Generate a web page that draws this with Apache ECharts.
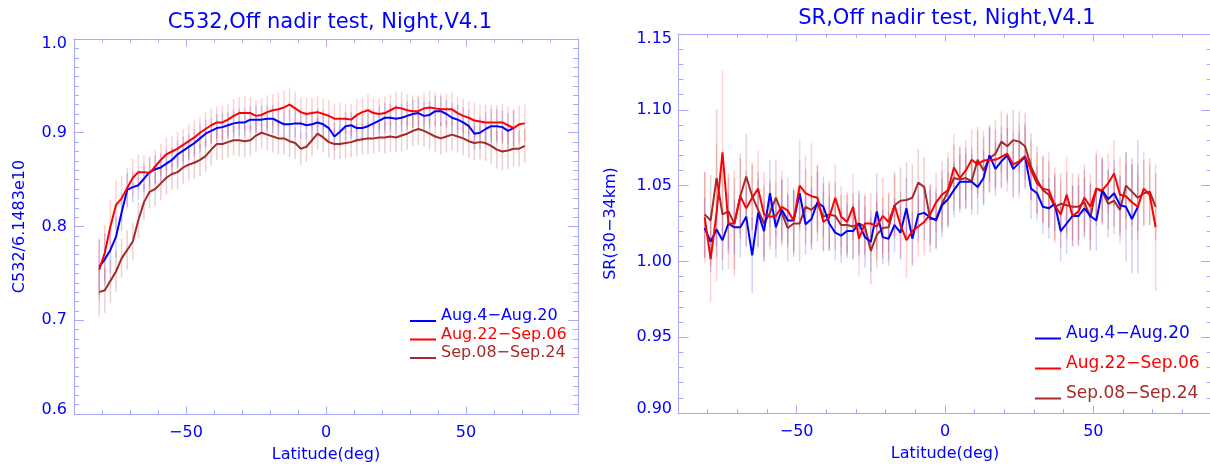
<!DOCTYPE html>
<html>
<head>
<meta charset="utf-8">
<script src="https://cdn.jsdelivr.net/npm/echarts@6/dist/echarts.min.js"></script>
<style>
  html, body { margin: 0; background: #fff; }
  #main { width: 1210px; height: 465px; }
</style>
</head>
<body>
<div id="main"></div>
<script>
// latitude bins (deg), shared by both panels
const LAT = [
  -81, -79, -77, -75, -73, -71, -69, -67, -65, -63, -61,
  -59, -57, -55, -53, -51, -49, -47, -45, -43, -41, -39,
  -37, -35, -33, -31, -29, -27, -25, -23, -21, -19, -17,
  -15, -13, -11, -9, -7, -5, -3, -1, 1, 3, 5,
  7, 9, 11, 13, 15, 17, 19, 21, 23, 25, 27,
  29, 31, 33, 35, 37, 39, 41, 43, 45, 47, 49,
  51, 53, 55, 57, 59, 61, 63, 65, 67, 69, 71
];

const NAMES = ['Aug.4−Aug.20', 'Aug.22−Sep.06', 'Sep.08−Sep.24'];

// C532/6.1483e10
const C532_AUG1 = [
  0.757, 0.765, 0.775, 0.789, 0.815, 0.839, 0.842, 0.844, 0.851, 0.858, 0.861,
  0.863, 0.867, 0.871, 0.877, 0.881, 0.885, 0.889, 0.894, 0.899, 0.902, 0.905,
  0.906, 0.908, 0.910, 0.911, 0.911, 0.914, 0.914, 0.914, 0.915, 0.915, 0.912,
  0.909, 0.909, 0.910, 0.910, 0.908, 0.909, 0.911, 0.909, 0.905, 0.896, 0.901,
  0.907, 0.908, 0.905, 0.905, 0.907, 0.910, 0.913, 0.916, 0.916, 0.915, 0.916,
  0.918, 0.920, 0.921, 0.918, 0.919, 0.923, 0.923, 0.920, 0.916, 0.914, 0.911,
  0.907, 0.899, 0.900, 0.904, 0.907, 0.907, 0.906, 0.902, 0.905, null, null
];
const C532_AUG2 = [
  0.754, 0.772, 0.800, 0.823, 0.830, 0.841, 0.852, 0.858, 0.858, 0.857, 0.864,
  0.871, 0.877, 0.880, 0.883, 0.887, 0.891, 0.895, 0.900, 0.904, 0.908, 0.911,
  0.911, 0.914, 0.918, 0.921, 0.921, 0.921, 0.918, 0.919, 0.922, 0.924, 0.925,
  0.927, 0.930, 0.926, 0.922, 0.920, 0.921, 0.922, 0.920, 0.918, 0.915, 0.915,
  0.915, 0.914, 0.919, 0.922, 0.924, 0.921, 0.920, 0.921, 0.924, 0.927, 0.926,
  0.924, 0.923, 0.923, 0.926, 0.927, 0.926, 0.925, 0.925, 0.925, 0.921, 0.918,
  0.916, 0.913, 0.912, 0.911, 0.911, 0.911, 0.911, 0.908, 0.905, 0.909, 0.910
];
const C532_SEP = [
  0.730, 0.732, 0.742, 0.752, 0.766, 0.775, 0.784, 0.807, 0.826, 0.837, 0.840,
  0.846, 0.852, 0.856, 0.858, 0.863, 0.866, 0.868, 0.871, 0.875, 0.882, 0.888,
  0.888, 0.890, 0.892, 0.892, 0.891, 0.892, 0.897, 0.900, 0.898, 0.896, 0.894,
  0.894, 0.891, 0.889, 0.883, 0.885, 0.892, 0.899, 0.895, 0.890, 0.888, 0.888,
  0.889, 0.890, 0.892, 0.893, 0.894, 0.894, 0.895, 0.895, 0.896, 0.895, 0.897,
  0.899, 0.902, 0.904, 0.902, 0.899, 0.896, 0.894, 0.896, 0.898, 0.896, 0.894,
  0.891, 0.889, 0.890, 0.889, 0.886, 0.882, 0.880, 0.881, 0.883, 0.883, 0.886
];
// half length of the error bars
const C532_AUG1_ERR = [
  0.030, 0.028, 0.025, 0.022, 0.020, 0.018, 0.016, 0.016, 0.015, 0.015, 0.015,
  0.015, 0.015, 0.014, 0.015, 0.015, 0.014, 0.015, 0.015, 0.015, 0.014, 0.015,
  0.015, 0.014, 0.015, 0.015, 0.015, 0.014, 0.015, 0.015, 0.014, 0.015, 0.015,
  0.015, 0.016, 0.015, 0.015, 0.014, 0.015, 0.015, 0.015, 0.016, 0.015, 0.015,
  0.015, 0.014, 0.015, 0.015, 0.015, 0.014, 0.015, 0.016, 0.015, 0.015, 0.015,
  0.015, 0.015, 0.016, 0.015, 0.015, 0.016, 0.016, 0.015, 0.016, 0.016, 0.016,
  0.017, 0.017, 0.017, 0.018, 0.018, 0.018, 0.018, 0.019, 0.020, null, null
];
const C532_AUG2_ERR = [
  0.032, 0.030, 0.028, 0.026, 0.024, 0.022, 0.020, 0.019, 0.018, 0.018, 0.018,
  0.017, 0.018, 0.017, 0.018, 0.017, 0.018, 0.018, 0.017, 0.018, 0.018, 0.017,
  0.018, 0.017, 0.018, 0.017, 0.018, 0.017, 0.017, 0.018, 0.018, 0.017, 0.018,
  0.018, 0.018, 0.017, 0.016, 0.017, 0.016, 0.017, 0.016, 0.017, 0.016, 0.017,
  0.016, 0.017, 0.017, 0.016, 0.017, 0.016, 0.017, 0.018, 0.017, 0.017, 0.018,
  0.017, 0.017, 0.016, 0.017, 0.018, 0.017, 0.017, 0.017, 0.018, 0.018, 0.018,
  0.018, 0.019, 0.018, 0.019, 0.019, 0.019, 0.020, 0.020, 0.019, 0.020, 0.020
];
const C532_SEP_ERR = [
  0.025, 0.024, 0.023, 0.022, 0.021, 0.021, 0.020, 0.019, 0.019, 0.018, 0.018,
  0.018, 0.018, 0.017, 0.018, 0.017, 0.017, 0.017, 0.017, 0.017, 0.017, 0.017,
  0.017, 0.017, 0.016, 0.017, 0.017, 0.016, 0.017, 0.017, 0.017, 0.017, 0.017,
  0.017, 0.017, 0.017, 0.017, 0.016, 0.017, 0.017, 0.016, 0.016, 0.017, 0.016,
  0.016, 0.016, 0.017, 0.016, 0.017, 0.016, 0.016, 0.017, 0.016, 0.016, 0.017,
  0.017, 0.016, 0.017, 0.017, 0.017, 0.016, 0.017, 0.017, 0.017, 0.017, 0.018,
  0.018, 0.018, 0.018, 0.019, 0.019, 0.020, 0.020, 0.020, 0.019, 0.019, 0.018
];

// SR(30-34km)
const SR_AUG1 = [
  1.022, 1.013, 1.021, 1.014, 1.025, 1.0225, 1.0225, 1.0295, 1.004, 1.032, 1.020,
  1.045, 1.0225, 1.034, 1.027, 1.027, 1.045, 1.0245, 1.028, 1.039, 1.036, 1.025,
  1.019, 1.017, 1.020, 1.020, 1.025, 1.016, 1.013, 1.033, 1.016, 1.015, 1.024,
  1.019, 1.035, 1.015, 1.031, 1.032, 1.029, 1.027, 1.037, 1.041, 1.047, 1.0525,
  1.0525, 1.0525, 1.049, 1.055, 1.070, 1.061, 1.066, 1.070, 1.061, 1.065, 1.069,
  1.048, 1.045, 1.036, 1.035, 1.038, 1.020, 1.025, 1.030, 1.030, 1.035, 1.030,
  1.027, 1.047, 1.041, 1.045, 1.037, 1.036, 1.028, 1.036, null, null, null
];
const SR_AUG2 = [
  1.029, 1.0015, 1.032, 1.072, 1.025, 1.025, 1.043, 1.035, 1.042, 1.048, 1.031,
  1.0295, 1.030, 1.036, 1.0335, 1.027, 1.050, 1.045, 1.043, 1.042, 1.026, 1.029,
  1.042, 1.0295, 1.026, 1.036, 1.015, 1.025, 1.025, 1.023, 1.030, 1.026, 1.037,
  1.024, 1.014, 1.020, 1.023, 1.026, 1.031, 1.039, 1.044, 1.047, 1.062, 1.055,
  1.060, 1.067, 1.064, 1.0665, 1.067, 1.067, 1.069, 1.071, 1.064, 1.066, 1.0695,
  1.060, 1.0515, 1.048, 1.047, 1.037, 1.031, 1.044, 1.030, 1.033, 1.042, 1.036,
  1.048, 1.047, 1.0515, 1.058, 1.044, 1.043, 1.039, 1.036, 1.048, 1.044, 1.0225
];
const SR_SEP = [
  1.031, 1.027, 1.055, 1.031, 1.033, 1.025, 1.043, 1.056, 1.043, 1.034, 1.025,
  1.032, 1.042, 1.032, 1.022, 1.025, 1.025, 1.036, 1.034, 1.038, 1.0295, 1.031,
  1.030, 1.024, 1.024, 1.023, 1.025, 1.023, 1.007, 1.0175, 1.022, 1.0225, 1.037,
  1.040, 1.0405, 1.042, 1.052, 1.049, 1.028, 1.028, 1.038, 1.046, 1.055, 1.054,
  1.055, 1.053, 1.067, 1.060, 1.068, 1.071, 1.079, 1.076, 1.080, 1.079, 1.076,
  1.0625, 1.054, 1.047, 1.044, 1.036, 1.038, 1.037, 1.036, 1.036, 1.039, 1.029,
  1.048, 1.046, 1.038, 1.040, 1.034, 1.050, 1.046, 1.042, 1.045, 1.046, 1.036
];
const SR_AUG1_ERR = [
  0.020, 0.020, 0.018, 0.020, 0.020, 0.018, 0.020, 0.020, 0.025, 0.022, 0.020,
  0.022, 0.020, 0.020, 0.018, 0.020, 0.022, 0.020, 0.020, 0.020, 0.020, 0.018,
  0.018, 0.018, 0.018, 0.018, 0.020, 0.020, 0.020, 0.025, 0.018, 0.018, 0.018,
  0.018, 0.020, 0.018, 0.018, 0.018, 0.018, 0.018, 0.018, 0.018, 0.018, 0.018,
  0.018, 0.018, 0.018, 0.018, 0.018, 0.018, 0.018, 0.018, 0.018, 0.020, 0.020,
  0.020, 0.018, 0.018, 0.020, 0.018, 0.020, 0.020, 0.020, 0.020, 0.020, 0.022,
  0.020, 0.020, 0.020, 0.022, 0.020, 0.036, 0.036, 0.044, null, null, null
];
const SR_AUG2_ERR = [
  0.030, 0.028, 0.045, 0.054, 0.030, 0.035, 0.025, 0.025, 0.022, 0.025, 0.028,
  0.022, 0.022, 0.024, 0.022, 0.022, 0.030, 0.025, 0.035, 0.022, 0.020, 0.022,
  0.022, 0.020, 0.020, 0.022, 0.025, 0.020, 0.020, 0.022, 0.025, 0.020, 0.020,
  0.022, 0.025, 0.022, 0.020, 0.022, 0.020, 0.020, 0.022, 0.025, 0.022, 0.020,
  0.020, 0.020, 0.022, 0.020, 0.022, 0.020, 0.020, 0.025, 0.022, 0.024, 0.022,
  0.020, 0.020, 0.022, 0.025, 0.025, 0.022, 0.025, 0.020, 0.022, 0.022, 0.022,
  0.025, 0.022, 0.020, 0.022, 0.025, 0.022, 0.025, 0.022, 0.024, 0.020, 0.042
];
const SR_SEP_ERR = [
  0.028, 0.030, 0.045, 0.030, 0.025, 0.030, 0.028, 0.028, 0.022, 0.025, 0.025,
  0.022, 0.025, 0.022, 0.022, 0.022, 0.025, 0.025, 0.022, 0.025, 0.022, 0.022,
  0.022, 0.020, 0.020, 0.022, 0.022, 0.020, 0.022, 0.022, 0.020, 0.022, 0.022,
  0.022, 0.025, 0.022, 0.022, 0.020, 0.022, 0.020, 0.022, 0.022, 0.022, 0.022,
  0.020, 0.022, 0.022, 0.022, 0.022, 0.022, 0.020, 0.022, 0.020, 0.020, 0.022,
  0.022, 0.022, 0.022, 0.022, 0.022, 0.020, 0.022, 0.022, 0.022, 0.022, 0.022,
  0.022, 0.022, 0.022, 0.022, 0.022, 0.022, 0.022, 0.022, 0.022, 0.022, 0.022
];

// labelled x ticks
const X_TICKS = [-50, 0, 50];

const LINE_COLORS = ['#0000ff', '#ff0000', '#a52a2a'];
const BAR_COLORS = ['rgba(0,0,255,0.18)', 'rgba(255,0,0,0.18)', 'rgba(165,42,42,0.22)'];
const FRAME = '#a8a8ff';
const TEXT = '#0000ff';

const panels = [
  {
    title: 'C532,Off nadir test, Night,V4.1', titleX: 325, titleTop: 7,
    yName: 'C532/6.1483e10', yNameGap: 46,
    grid: { left: 74, top: 39, width: 504, height: 375 },
    yMin: 0.6, yMax: 1.0, yStep: 0.1, yMinor: 0.01, digits: 1,
    xTick: 7.5, yTick: 10, labelMargin: 7,
    values: [C532_AUG1, C532_AUG2, C532_SEP],
    errors: [C532_AUG1_ERR, C532_AUG2_ERR, C532_SEP_ERR],
    legend: { left: 410, top: 307, itemGap: 0.5, fontSize: 16, lineHeight: 18, iconWidth: 26 }
  },
  {
    title: 'SR,Off nadir test, Night,V4.1', titleX: 942, titleTop: 3,
    yName: 'SR(30−34km)', yNameGap: 59,
    grid: { left: 678, top: 34, width: 534, height: 379 },
    yMin: 0.9, yMax: 1.15, yStep: 0.05, yMinor: 0.01, digits: 2,
    xTick: 7.5, yTick: 10.7, labelMargin: 6,
    values: [SR_AUG1, SR_AUG2, SR_SEP],
    errors: [SR_AUG1_ERR, SR_AUG2_ERR, SR_SEP_ERR],
    legend: { left: 1035, top: 324, itemGap: 11, fontSize: 17, lineHeight: 19, iconWidth: 26 }
  }
];

const minus = v => String(v).replace('-', '−');
const frameLine = { show: true, onZero: false, lineStyle: { color: FRAME, width: 1 } };
const noLine = { show: false, onZero: false };
const tickStyle = { color: FRAME, width: 1 };

// IDL style box: major + minor ticks on all four sides, pointing inward
function xAxes(p, g) {
  const base = { gridIndex: g, type: 'value', min: -90, max: 90, splitLine: { show: false } };
  return [
    Object.assign({}, base, {
      position: 'bottom', axisLine: frameLine,
      axisTick: { inside: true, length: p.xTick, customValues: X_TICKS, lineStyle: tickStyle },
      axisLabel: { customValues: X_TICKS, formatter: minus, color: TEXT, fontSize: 16, margin: 11 },
      name: 'Latitude(deg)', nameLocation: 'middle', nameGap: 33,
      nameTextStyle: { color: TEXT, fontSize: 16 }
    }),
    Object.assign({}, base, {
      position: 'bottom', interval: 10, axisLine: noLine,
      axisTick: { inside: true, length: p.xTick / 2, lineStyle: tickStyle }, axisLabel: { show: false }
    }),
    Object.assign({}, base, {
      position: 'top', axisLine: frameLine,
      axisTick: { inside: true, length: p.xTick, customValues: X_TICKS, lineStyle: tickStyle },
      axisLabel: { show: false }
    }),
    Object.assign({}, base, {
      position: 'top', interval: 10, axisLine: noLine,
      axisTick: { inside: true, length: p.xTick / 2, lineStyle: tickStyle }, axisLabel: { show: false }
    })
  ];
}

function yAxes(p, g) {
  const base = { gridIndex: g, type: 'value', min: p.yMin, max: p.yMax, splitLine: { show: false } };
  // end labels sit a little inside the box, like the original
  const fmt = v => {
    const s = v.toFixed(p.digits);
    if (Math.abs(v - p.yMax) < 1e-9) return '{hi|' + s + '}';
    if (Math.abs(v - p.yMin) < 1e-9) return '{lo|' + s + '}';
    return s;
  };
  return [
    Object.assign({}, base, {
      position: 'left', interval: p.yStep, axisLine: frameLine,
      axisTick: { inside: true, length: p.yTick, lineStyle: tickStyle },
      axisLabel: {
        formatter: fmt, color: TEXT, fontSize: 16, margin: p.labelMargin,
        rich: {
          hi: { color: TEXT, fontSize: 16, padding: [10, 0, 0, 0] },
          lo: { color: TEXT, fontSize: 16, padding: [0, 0, 9, 0] }
        }
      },
      name: p.yName, nameLocation: 'middle', nameGap: p.yNameGap,
      nameTextStyle: { color: TEXT, fontSize: 16 }
    }),
    Object.assign({}, base, {
      position: 'left', interval: p.yMinor, axisLine: noLine,
      axisTick: { inside: true, length: p.yTick / 2, lineStyle: tickStyle }, axisLabel: { show: false }
    }),
    Object.assign({}, base, {
      position: 'right', interval: p.yStep, axisLine: frameLine,
      axisTick: { inside: true, length: p.yTick, lineStyle: tickStyle }, axisLabel: { show: false }
    }),
    Object.assign({}, base, {
      position: 'right', interval: p.yMinor, axisLine: noLine,
      axisTick: { inside: true, length: p.yTick / 2, lineStyle: tickStyle }, axisLabel: { show: false }
    })
  ];
}

function errorBars(vals, errs) {
  const rows = [];
  LAT.forEach((x, i) => {
    if (vals[i] != null && errs[i] != null) rows.push([x, vals[i] - errs[i], vals[i] + errs[i]]);
  });
  return rows;
}

const option = {
  animation: false,
  backgroundColor: '#fff',
  textStyle: { fontFamily: 'DejaVu Sans' },
  title: panels.map(p => ({
    text: p.title, left: p.titleX, top: p.titleTop, textAlign: 'center',
    textStyle: { color: TEXT, fontSize: 21, fontWeight: 'normal' }
  })),
  grid: panels.map(p => Object.assign({ outerBoundsMode: 'none' }, p.grid)),
  xAxis: [].concat(xAxes(panels[0], 0), xAxes(panels[1], 1)),
  yAxis: [].concat(yAxes(panels[0], 0), yAxes(panels[1], 1)),
  // legend line sits on the text baseline
  legend: panels.map(p => ({
    left: p.legend.left, top: p.legend.top, orient: 'vertical',
    itemGap: p.legend.itemGap, itemWidth: p.legend.iconWidth, itemHeight: 12, padding: 0,
    selectedMode: false, symbolKeepAspect: false,
    icon: 'path://M0,0L0.1,0L0.1,0.01L0,0.01ZM0,10L26,10L26,12L0,12Z',
    textStyle: { fontSize: p.legend.fontSize, lineHeight: p.legend.lineHeight },
    data: NAMES.map((n, i) => ({ name: n, textStyle: { color: LINE_COLORS[i] } }))
  })),
  series: []
};

panels.forEach((p, g) => {
  const axisIdx = g * 4;
  // error bars first so the curves stay on top
  [0, 1, 2].forEach(s => {
    option.series.push({
      type: 'custom',
      xAxisIndex: axisIdx, yAxisIndex: axisIdx,
      silent: true, z: 1,
      data: errorBars(p.values[s], p.errors[s]),
      encode: { x: 0, y: [1, 2] },
      renderItem: (params, api) => {
        const hi = api.coord([api.value(0), api.value(2)]);
        const lo = api.coord([api.value(0), api.value(1)]);
        return {
          type: 'line',
          shape: { x1: hi[0], y1: hi[1], x2: lo[0], y2: lo[1] },
          style: { stroke: BAR_COLORS[s], lineWidth: 1.5 }
        };
      }
    });
  });
  [2, 0, 1].forEach(s => {
    option.series.push({
      name: NAMES[s],
      type: 'line',
      xAxisIndex: axisIdx, yAxisIndex: axisIdx,
      z: 3,
      showSymbol: false,
      data: LAT.map((x, i) => [x, p.values[s][i]]),
      lineStyle: { color: LINE_COLORS[s], width: 2 },
      itemStyle: { color: LINE_COLORS[s] }
    });
  });
});

const chart = echarts.init(document.getElementById('main'));
chart.setOption(option);
</script>
</body>
</html>
